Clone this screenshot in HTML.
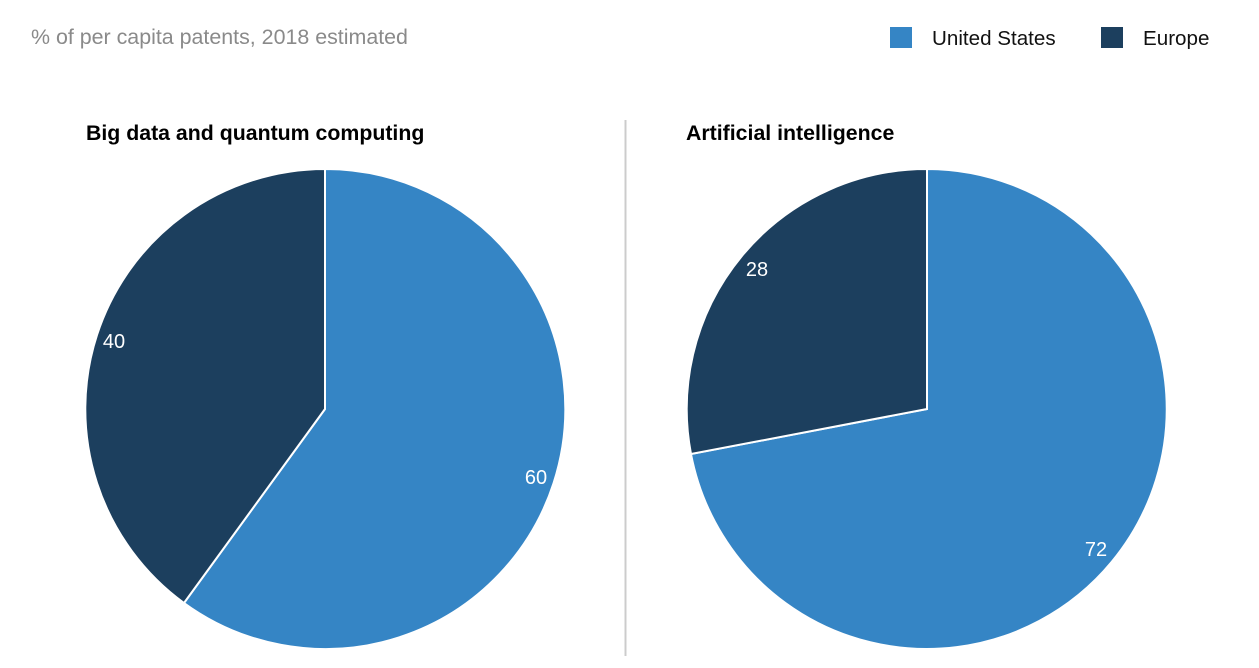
<!DOCTYPE html>
<html><head><meta charset="utf-8"><style>
html,body{margin:0;padding:0;background:#fff;}
svg{display:block;font-family:"Liberation Sans",Arial,sans-serif;}
</style></head><body>
<svg width="1259" height="668" viewBox="0 0 1259 668" xmlns="http://www.w3.org/2000/svg">
<text x="31" y="44" font-size="21.4" fill="#8a8a8a">% of per capita patents, 2018 estimated</text>
<rect x="890" y="27" width="22" height="21" fill="#3585c5"/>
<text x="932" y="45" font-size="20.6" fill="#111">United States</text>
<rect x="1101" y="27" width="22" height="21" fill="#1c3f5e"/>
<text x="1143" y="45" font-size="20.6" fill="#111">Europe</text>
<text x="86" y="140" font-size="21.3" font-weight="bold" fill="#000">Big data and quantum computing</text>
<text x="686" y="140" font-size="21.3" font-weight="bold" fill="#000">Artificial intelligence</text>
<line x1="625.5" y1="120" x2="625.5" y2="656" stroke="#ccc" stroke-width="2"/>
<path d="M325,409 L325,169 A240,240 0 1,1 184,603 Z" fill="#3585c5" stroke="#fff" stroke-width="2"/>
<path d="M325,409 L184,603 A240,240 0 0,1 325,169 Z" fill="#1c3f5e" stroke="#fff" stroke-width="2"/>
<text x="114" y="348" font-size="20" fill="#fff" text-anchor="middle">40</text>
<text x="536" y="484" font-size="20" fill="#fff" text-anchor="middle">60</text>
<path d="M927,409 L927,169 A240,240 0 1,1 691,454 Z" fill="#3585c5" stroke="#fff" stroke-width="2"/>
<path d="M927,409 L691,454 A240,240 0 0,1 927,169 Z" fill="#1c3f5e" stroke="#fff" stroke-width="2"/>
<text x="757" y="276" font-size="20" fill="#fff" text-anchor="middle">28</text>
<text x="1096" y="556" font-size="20" fill="#fff" text-anchor="middle">72</text>
</svg>
</body></html>
